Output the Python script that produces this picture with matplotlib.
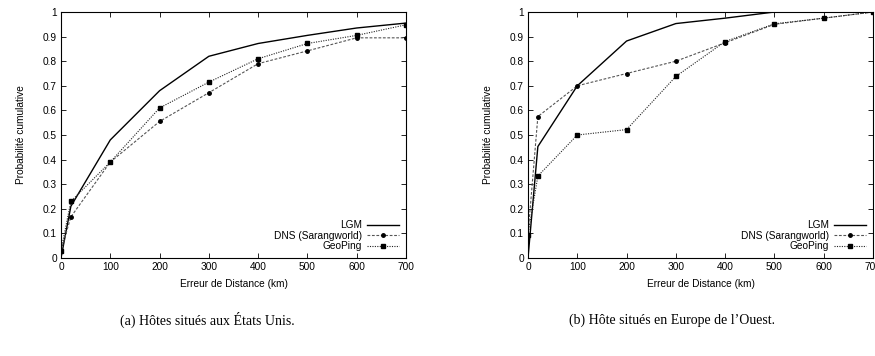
import matplotlib
matplotlib.use("Agg")
import matplotlib.pyplot as plt

x_us = [0, 20, 100, 200, 300, 400, 500, 600, 700]
lgm_us = [0.0, 0.21, 0.48, 0.68, 0.82, 0.872, 0.905, 0.935, 0.955]
dns_us = [0.03, 0.167, 0.39, 0.555, 0.672, 0.79, 0.842, 0.895, 0.895]
geo_us = [0.03, 0.23, 0.39, 0.61, 0.715, 0.81, 0.872, 0.905, 0.948]

x_eu = [0, 20, 100, 200, 300, 400, 500, 600, 700]
lgm_eu = [0.0, 0.453, 0.70, 0.882, 0.953, 0.975, 1.0, 1.0, 1.0]
dns_eu = [0.095, 0.575, 0.70, 0.75, 0.80, 0.875, 0.95, 0.975, 1.0]
geo_eu = [0.095, 0.333, 0.50, 0.522, 0.738, 0.88, 0.952, 0.975, 1.0]

names = ["LGM", "DNS (Sarangworld)", "GeoPing"]
captions = ["(a) Hôtes situés aux États Unis.", "(b) Hôte situés en Europe de l\u2019Ouest."]
xticks = [0, 100, 200, 300, 400, 500, 600, 700]
yticks = [0, 0.1, 0.2, 0.3, 0.4, 0.5, 0.6, 0.7, 0.8, 0.9, 1]
ytick_labels = ["0", "0.1", "0.2", "0.3", "0.4", "0.5", "0.6", "0.7", "0.8", "0.9", "1"]

plt.rcParams['font.family'] = ['Liberation Sans', 'DejaVu Sans']

W, H = 875, 356
fig = plt.figure(figsize=(W / 100, H / 100), dpi=100)

panels = [
    (61, x_us, lgm_us, dns_us, geo_us, 207),
    (528, x_eu, lgm_eu, dns_eu, geo_eu, 672),
]
fs = 7.3
for i, (left, xs, lgm, dns, geo, capx) in enumerate(panels):
    ax = fig.add_axes([left / W, 98 / H, 345 / W, 246 / H])
    ax.plot(xs, lgm, color='black', lw=1.0, label=names[0])
    ax.plot(xs, dns, color='#555555', lw=0.8, ls=(0, (2.5, 1.5)), marker='o', ms=2.5,
            mfc='black', mec='black', label=names[1])
    ax.plot(xs, geo, color='#222222', lw=0.8, ls=(0, (1, 1.2)), marker='s', ms=2.5,
            mfc='black', mec='black', label=names[2])
    ax.set_xlim(0, 700)
    ax.set_ylim(0, 1)
    ax.set_xticks(xticks)
    ax.set_yticks(yticks)
    ax.set_yticklabels(ytick_labels)
    ax.tick_params(direction='in', length=3.5, width=0.6, labelsize=fs, top=True, right=True, pad=3)
    for s in ax.spines.values():
        s.set_linewidth(0.8)
    ax.set_xlabel("Erreur de Distance (km)", fontsize=fs, labelpad=5)
    ax.set_ylabel("Probabilité cumulative", fontsize=fs, labelpad=12)
    ax.legend(loc='lower right', frameon=False, fontsize=fs, markerfirst=False,
              handlelength=3.2, handletextpad=0.5, labelspacing=0.05, borderaxespad=0.25)
    fig.text(capx / W, 1 - 320 / H, captions[i], ha='center', va='center',
             fontsize=10, family=['Liberation Serif', 'DejaVu Serif'])

fig.savefig("out.png", dpi=100)
